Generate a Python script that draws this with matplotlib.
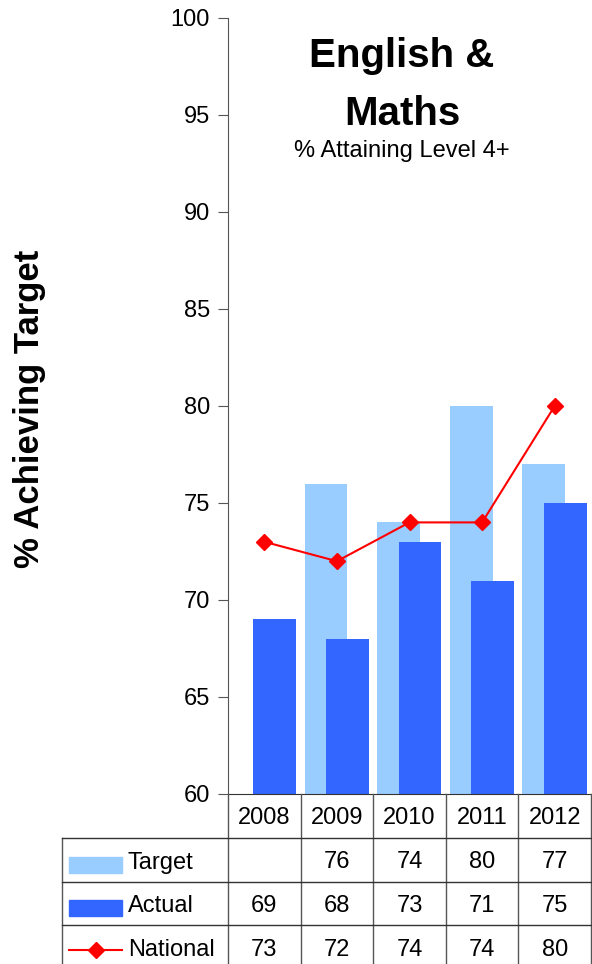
import matplotlib
matplotlib.use("Agg")
import matplotlib.pyplot as plt
import matplotlib.transforms as mtransforms
from matplotlib.patches import Rectangle
from matplotlib.lines import Line2D
import numpy as np

plt.rcParams['font.family'] = ['Liberation Sans', 'DejaVu Sans']

# results per year
years = ["2008", "2009", "2010", "2011", "2012"]
target = [np.nan, 76, 74, 80, 77]
actual = [69, 68, 73, 71, 75]
national = [73, 72, 74, 74, 80]
row_names = ["Target", "Actual", "National"]

c_target = "#99CCFF"
c_actual = "#3366FF"
c_nat = "#FF0000"
c_line = "#333333"

W, H = 592, 964
fig = plt.figure(figsize=(W / 100, H / 100), dpi=100)


def fy(py):
    # pixel row (from top) -> figure fraction
    return 1 - py / H


ax = fig.add_axes([228 / W, fy(794), 363 / W, (794 - 18) / H])
x = np.arange(len(years))
bw = 0.59
ax.bar(x - 0.15, target, bw, color=c_target, zorder=1)
ax.bar(x + 0.145, actual, bw, color=c_actual, zorder=2)
ax.plot(x, national, color=c_nat, lw=1.5, marker="D", ms=8.5, zorder=3)

ax.set_xlim(-0.5, len(years) - 0.5)
ax.set_ylim(60, 100)
ax.set_yticks(np.arange(60, 101, 5))
ax.tick_params(axis="y", labelsize=17, length=7, color="#555555", pad=6)
ax.tick_params(axis="x", bottom=False, labelbottom=False)
for s in ["top", "right"]:
    ax.spines[s].set_visible(False)
ax.spines["left"].set_color("#555555")
ax.spines["bottom"].set_color(c_line)

# titles
fig.text(402 / W, fy(67), "English &", ha="center", va="baseline",
         fontsize=29, fontweight="bold")
fig.text(402 / W, fy(125), "Maths", ha="center", va="baseline",
         fontsize=29, fontweight="bold")
fig.text(402 / W, fy(157), "% Attaining Level 4+", ha="center", va="baseline",
         fontsize=17)
fig.text(30 / W, fy(409), "% Achieving Target", ha="center", va="center",
         rotation=90, fontsize=25, fontweight="bold")

# data table under the axes
tr = mtransforms.blended_transform_factory(ax.transData, fig.transFigure)
row_edges = [794, 838, 882, 925, 968]
row_mid = [816, 860, 904, 947]
left = -0.5 - (228 - 62) / (363 / len(years))

for b in np.arange(-0.5, len(years), 1.0):
    fig.add_artist(Line2D([b, b], [fy(794), fy(968)], transform=tr,
                          color="#555555", lw=1))
fig.add_artist(Line2D([left, left], [fy(838), fy(968)], transform=tr,
                      color="#555555", lw=1))
for e in row_edges[1:4]:
    fig.add_artist(Line2D([left, len(years) - 0.5], [fy(e), fy(e)], transform=tr,
                          color=c_line, lw=1))

for i, yr in enumerate(years):
    fig.text(i, fy(row_mid[0]), yr, transform=tr, ha="center",
             va="center_baseline", fontsize=17)
for r, vals in enumerate([target, actual, national]):
    for i, v in enumerate(vals):
        if not np.isnan(v):
            fig.text(i, fy(row_mid[r + 1]), "%d" % v, transform=tr,
                     ha="center", va="center_baseline", fontsize=17)

# legend keys in the row labels
fig.add_artist(Rectangle((69 / W, fy(873)), 53 / W, 16 / H, color=c_target,
                         transform=fig.transFigure))
fig.add_artist(Rectangle((69 / W, fy(916)), 53 / W, 16 / H, color=c_actual,
                         transform=fig.transFigure))
fig.add_artist(Line2D([69 / W, 122 / W], [fy(950), fy(950)], color=c_nat,
                      lw=1.5, transform=fig.transFigure))
fig.add_artist(Line2D([95.5 / W], [fy(950)], color=c_nat, marker="D", ms=8.5,
                      transform=fig.transFigure))
for r, name in enumerate(row_names):
    fig.text(128 / W, fy(row_mid[r + 1]), name, ha="left",
             va="center_baseline", fontsize=17)

fig.savefig("out.png", dpi=100)
